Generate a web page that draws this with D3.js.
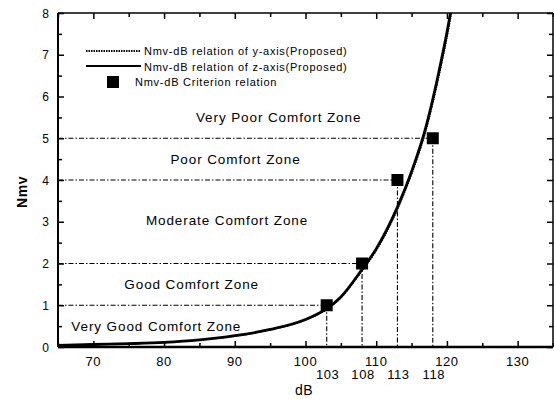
<!DOCTYPE html>
<html>
<head>
<meta charset="utf-8">
<script src="https://cdn.jsdelivr.net/npm/d3@7"></script>
<style>
  html, body { margin: 0; padding: 0; background: #fff; }
  svg { display: block; font-family: Arial, "Liberation Sans", Helvetica, sans-serif; }
</style>
</head>
<body>
<svg id="chart" width="554" height="399"></svg>
<script>
// Nmv–dB relation curves (sampled values)
const curveDb   = [65, 70, 75, 80, 85, 90, 95, 100, 103, 105, 108, 110, 113, 115, 117, 119, 120.5, 121.5];
const nmvZAxis  = [0.04, 0.06, 0.08, 0.11, 0.17, 0.27, 0.42, 0.66, 0.92, 1.2, 1.86, 2.35, 3.35, 4.2, 5.25, 6.7, 8.0, 9.1];
const nmvYAxis  = [0.04, 0.06, 0.08, 0.11, 0.17, 0.26, 0.41, 0.65, 0.9, 1.18, 1.83, 2.31, 3.3, 4.14, 5.17, 6.6, 7.88, 9.0];

// Criterion relation points
const criterionDb  = [103, 108, 113, 118];
const criterionNmv = [1, 2, 4, 5];

// Comfort zone labels: name, centre dB, Nmv
const zoneNames = ["Very Poor Comfort Zone", "Poor Comfort Zone", "Moderate Comfort Zone", "Good Comfort Zone", "Very Good Comfort Zone"];
const zoneDb    = [96.2, 90.1, 88.9, 83.9, 78.9];
const zoneNmv   = [5.5, 4.5, 3.05, 1.5, 0.5];

// Axis ticks
const xTicks = [70, 80, 90, 100, 110, 120, 130];
const yTicks = [0, 1, 2, 3, 4, 5, 6, 7, 8];

const legendLabels = [
  "Nmv-dB relation of y-axis(Proposed)",
  "Nmv-dB relation of z-axis(Proposed)",
  "Nmv-dB Criterion relation"
];

const svg = d3.select("#chart");
const L = 58, R = 553, T = 13, B = 347;

const x = d3.scaleLinear().domain([65, 135]).range([L, R]);
const y = d3.scaleLinear().domain([0, 8]).range([B, T]);

svg.append("defs").append("clipPath").attr("id", "plotClip")
  .append("rect").attr("x", L).attr("y", T).attr("width", R - L).attr("height", B - T);

// Frame ticks (inward) on all four sides
const xMinor = d3.range(65, 136, 5);
const yMinor = d3.range(0, 8.01, 0.5);

svg.append("g").attr("transform", `translate(0,${B})`)
  .call(d3.axisTop(x).tickValues(xMinor).tickSize(4).tickFormat(""))
  .call(g => g.select(".domain").remove())
  .selectAll("line").attr("stroke-width", 1.5)
  .attr("y2", d => d % 10 === 0 ? -6 : -4);

svg.append("g").attr("transform", `translate(0,${T})`)
  .call(d3.axisBottom(x).tickValues(xMinor).tickSize(4).tickFormat(""))
  .call(g => g.select(".domain").remove())
  .selectAll("line").attr("stroke-width", 1.5)
  .attr("y2", d => d % 10 === 0 ? 6 : 4);

svg.append("g").attr("transform", `translate(${L},0)`)
  .call(d3.axisRight(y).tickValues(yMinor).tickSize(4).tickFormat(""))
  .call(g => g.select(".domain").remove())
  .selectAll("line").attr("stroke-width", 1.5)
  .attr("x2", d => Number.isInteger(d) ? 6 : 4);

svg.append("g").attr("transform", `translate(${R},0)`)
  .call(d3.axisLeft(y).tickValues(yMinor).tickSize(4).tickFormat(""))
  .call(g => g.select(".domain").remove())
  .selectAll("line").attr("stroke-width", 1.5)
  .attr("x2", d => Number.isInteger(d) ? -6 : -4);

// Frame lines
svg.append("line").attr("x1", L).attr("x2", R).attr("y1", B).attr("y2", B).attr("stroke", "#000").attr("stroke-width", 2.5);
svg.append("line").attr("x1", L).attr("x2", R).attr("y1", T).attr("y2", T).attr("stroke", "#000").attr("stroke-width", 1.5);
svg.append("line").attr("x1", L).attr("x2", L).attr("y1", T).attr("y2", B).attr("stroke", "#000").attr("stroke-width", 2);
svg.append("line").attr("x1", R).attr("x2", R).attr("y1", T).attr("y2", B).attr("stroke", "#000").attr("stroke-width", 1.5);

// Tick labels
svg.append("g").selectAll("text").data(xTicks).join("text")
  .attr("x", d => x(d)).attr("y", 366)
  .attr("text-anchor", "middle").attr("font-size", 13).attr("letter-spacing", 0.6)
  .text(d => d);

svg.append("g").selectAll("text").data(criterionDb).join("text")
  .attr("x", d => x(d) + 1).attr("y", 379)
  .attr("text-anchor", "middle").attr("font-size", 13).attr("letter-spacing", 0.6)
  .text(d => d);

svg.append("g").selectAll("text").data(yTicks).join("text")
  .attr("x", 49).attr("y", d => y(d) + 4.5)
  .attr("text-anchor", "end").attr("font-size", 12)
  .text(d => d);

// Axis titles
svg.append("text").attr("x", 304).attr("y", 395)
  .attr("text-anchor", "middle").attr("font-size", 14).attr("letter-spacing", 0.5).text("dB");
svg.append("text")
  .attr("transform", "translate(27,192) rotate(-90)")
  .attr("text-anchor", "middle").attr("font-size", 14).attr("font-weight", "bold").attr("letter-spacing", 0.5)
  .text("Nmv");

// Zone boundary guides (dash-dot) from the axis to each criterion point
const guide = svg.append("g").attr("stroke", "#000").attr("stroke-width", 1.1)
  .attr("stroke-dasharray", "5,2,1.5,2").attr("fill", "none");
criterionDb.forEach((d, i) => {
  guide.append("line").attr("x1", x(65)).attr("x2", x(d))
    .attr("y1", y(criterionNmv[i])).attr("y2", y(criterionNmv[i]));
  guide.append("line").attr("x1", x(d)).attr("x2", x(d))
    .attr("y1", y(criterionNmv[i])).attr("y2", y(0));
});

// Zone labels
svg.append("g").selectAll("text").data(zoneNames).join("text")
  .attr("x", (d, i) => x(zoneDb[i])).attr("y", (d, i) => y(zoneNmv[i]) + 5)
  .attr("text-anchor", "middle").attr("font-size", 13.5).attr("letter-spacing", 0.9)
  .text(d => d);

// Curves
const line = d3.line().x(d => x(d[0])).y(d => y(d[1])).curve(d3.curveMonotoneX);
const plot = svg.append("g").attr("clip-path", "url(#plotClip)");
plot.append("path").datum(curveDb.map((d, i) => [d, nmvZAxis[i]]))
  .attr("d", line).attr("fill", "none").attr("stroke", "#000").attr("stroke-width", 2.8);
plot.append("path").datum(curveDb.map((d, i) => [d, nmvYAxis[i]]))
  .attr("d", line).attr("fill", "none").attr("stroke", "#000").attr("stroke-width", 1.6)
  .attr("stroke-dasharray", "1.5,1");

// Criterion squares
svg.append("g").selectAll("rect").data(criterionDb).join("rect")
  .attr("x", d => x(d) - 6).attr("y", (d, i) => y(criterionNmv[i]) - 6)
  .attr("width", 12).attr("height", 12).attr("fill", "#000");

// Legend
const lg = svg.append("g");
lg.append("line").attr("x1", 86).attr("x2", 141).attr("y1", 51).attr("y2", 51)
  .attr("stroke", "#000").attr("stroke-width", 1.8).attr("stroke-dasharray", "1.5,1");
lg.append("line").attr("x1", 86).attr("x2", 141).attr("y1", 66).attr("y2", 66)
  .attr("stroke", "#000").attr("stroke-width", 2);
lg.append("rect").attr("x", 107).attr("y", 76).attr("width", 12).attr("height", 12).attr("fill", "#000");
lg.selectAll("text").data(legendLabels).join("text")
  .attr("x", (d, i) => i === 2 ? 135 : 144).attr("y", (d, i) => 55 + i * 15.5)
  .attr("font-size", 11).attr("letter-spacing", 0.75)
  .text(d => d);
</script>
</body>
</html>
